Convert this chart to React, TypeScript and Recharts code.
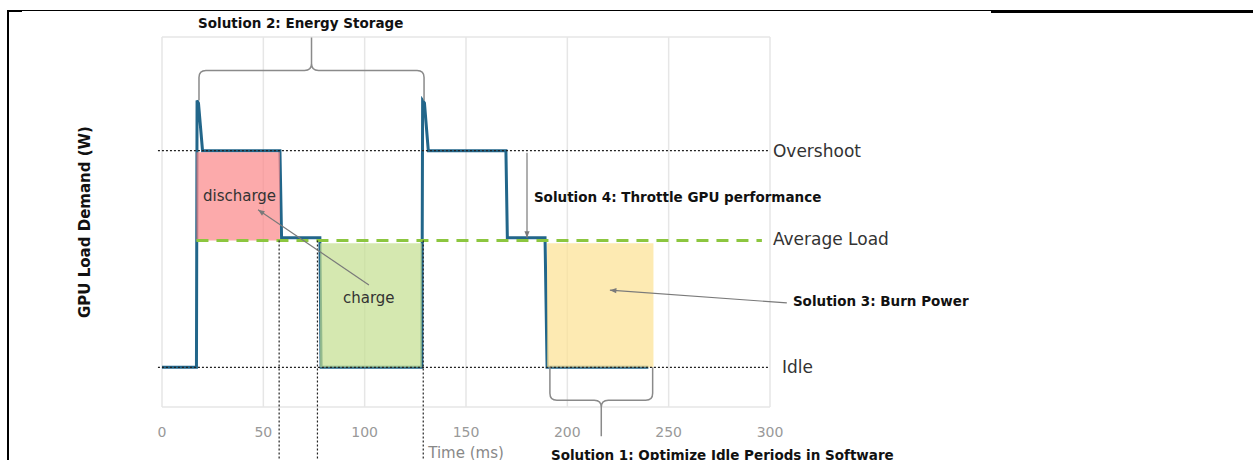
import React from "react";
import {
  ComposedChart,
  Line,
  XAxis,
  YAxis,
  CartesianGrid,
  ReferenceArea,
  ReferenceLine,
  ReferenceDot,
} from "recharts";

const X_TICKS = [0, 50, 100, 150, 200, 250, 300];
const Y_GRID = [0, 100, 200, 300, 400, 500, 600, 700];

// GPU load trace: time (ms) and demand (relative W, the picture has no y ticks)
const TIME = [0, 17, 17.3, 18, 20, 58.2, 59, 77.9, 78.5, 128.2, 128.6, 129.5, 131.4, 169.7, 170.4, 189, 190, 240];
const LOAD = [75, 75, 580, 575, 485, 485, 320, 320, 75, 75, 580, 575, 485, 485, 320, 320, 75, 75];

const IDLE = 75;
const AVERAGE = 315;
const OVERSHOOT = 485;

const LEVELS = [
  { name: "Overshoot", y: OVERSHOOT, from: -2, to: 299 },
  { name: "Average Load", y: AVERAGE, from: 17, to: 296 },
  { name: "Idle", y: IDLE, from: -2, to: 299 },
];

const ZONES = [
  { name: "discharge", x1: 17, x2: 58.2, y1: AVERAGE, y2: 482 },
  { name: "charge", x1: 78, x2: 128.2, y1: IDLE, y2: 310 },
  { name: "burn", x1: 190, x2: 242.5, y1: IDLE, y2: 310 },
];
const ZONE_COLORS = ["#fb8688", "#c3de8e", "#fce191"];

// dotted verticals dropping below the axis
const CUTS = [57.8, 76.7, 128.9];

const ARROWS = [
  { from: [102.1, 231], to: [47.4, 373] },
  { from: [180.1, 481], to: [180.1, 320] },
  { from: [308.3, 197], to: [221, 221] },
];

const BRACES = [
  { x1: 18.25, x2: 129.3, y: 580, dir: -1, d1: 30, d2: 33 },
  { x1: 191.4, x2: 242.1, y: IDLE, dir: 1, d1: 33, d2: 36 },
];

const NOTES = [
  { text: "Solution 2: Energy Storage", t: 17.8, w: 726, bold: true },
  { text: "discharge", t: 20.2, w: 399, bold: false },
  { text: "charge", t: 89.3, w: 206, bold: false },
  { text: "Solution 4: Throttle GPU performance", t: 183.5, w: 397, bold: true },
  { text: "Solution 3: Burn Power", t: 311.3, w: 200, bold: true },
  { text: "Solution 1: Optimize Idle Periods in Software", t: 191.9, w: -90, bold: true },
];

const trace = TIME.map((t, i) => ({ t, w: LOAD[i] }));

const arrowShape = (p: any) => {
  const { x1, y1, x2, y2 } = p;
  const a = Math.atan2(y2 - y1, x2 - x1);
  const len = 7;
  const sp = 0.38;
  const pts = [
    [x2, y2],
    [x2 - len * Math.cos(a - sp), y2 - len * Math.sin(a - sp)],
    [x2 - len * Math.cos(a + sp), y2 - len * Math.sin(a + sp)],
  ]
    .map((q) => q.join(","))
    .join(" ");
  return (
    <g>
      <line x1={x1} y1={y1} x2={x2} y2={y2} stroke="#7a7a7a" strokeWidth={1.2} />
      <polygon points={pts} fill="#7a7a7a" />
    </g>
  );
};

const braceShape = (dir: number, d1: number, d2: number) => (p: any) => {
  const { x1, y1, x2 } = p;
  const r = 7;
  const yh = y1 + dir * d1;
  const yc = yh + dir * d2;
  const xm = (x1 + x2) / 2;
  const d =
    `M${x1},${y1} L${x1},${yh - dir * r} Q${x1},${yh} ${x1 + r},${yh} L${xm - r},${yh} ` +
    `Q${xm},${yh} ${xm},${yh + dir * r} L${xm},${yc} ` +
    `M${xm},${yh + dir * r} Q${xm},${yh} ${xm + r},${yh} L${x2 - r},${yh} ` +
    `Q${x2},${yh} ${x2},${yh - dir * r} L${x2},${y1}`;
  return <path d={d} fill="none" stroke="#8a8a8a" strokeWidth={1.5} />;
};

export default function App() {
  return (
    <div
      style={{
        position: "absolute",
        left: 0,
        top: 0,
        width: 1253,
        height: 460,
        overflow: "hidden",
        background: "#fff",
        fontFamily: "'DejaVu Sans', sans-serif",
      }}
    >
      <div style={{ position: "absolute", left: 7, top: 10, width: 2, height: 450, background: "#000" }} />
      <div style={{ position: "absolute", left: 7, top: 10, width: 15, height: 2, background: "#000" }} />
      <div style={{ position: "absolute", left: 8, top: 10, width: 983, height: 1, background: "#000" }} />
      <div style={{ position: "absolute", left: 991, top: 10, width: 262, height: 2.5, background: "#000" }} />

      <ComposedChart
        width={1253}
        height={460}
        data={trace}
        margin={{ top: 37, right: 483, bottom: 23, left: 8 }}
      >
        <CartesianGrid stroke="#e6e6e6" strokeWidth={1.5} />
        <XAxis
          type="number"
          dataKey="t"
          domain={[0, 300]}
          ticks={X_TICKS}
          axisLine={false}
          tickLine={false}
          tickMargin={14}
          height={30}
          tick={{ fill: "#999", fontSize: 14 }}
          label={{ value: "Time (ms)", position: "bottom", offset: 10, fill: "#888", fontSize: 15 }}
        />
        <YAxis
          type="number"
          domain={[0, 700]}
          ticks={Y_GRID}
          width={154}
          tick={false}
          axisLine={false}
          tickLine={false}
          label={{
            value: "GPU Load Demand (W)",
            angle: -90,
            position: "center",
            fill: "#111",
            fontSize: 15,
            fontWeight: "bold",
          }}
        />
        <Line
          type="linear"
          dataKey="w"
          stroke="#22668a"
          strokeWidth={3}
          dot={false}
          activeDot={false}
          isAnimationActive={false}
        />
        {ZONES.map((z, i) => (
          <ReferenceArea
            key={z.name}
            x1={z.x1}
            x2={z.x2}
            y1={z.y1}
            y2={z.y2}
            fill={ZONE_COLORS[i]}
            fillOpacity={0.7}
            stroke="none"
            ifOverflow="visible"
            zIndex={450}
          />
        ))}
        {LEVELS.map((l, i) => (
          <ReferenceLine
            key={l.name}
            segment={[
              { x: l.from, y: l.y },
              { x: l.to, y: l.y },
            ]}
            stroke={i === 1 ? "#8cc63f" : "#222"}
            strokeWidth={i === 1 ? 3 : 1.2}
            strokeDasharray={i === 1 ? "12 8" : "2 2"}
            ifOverflow="visible"
            zIndex={500}
            label={{
              value: l.name,
              position: "right",
              offset: i === 2 ? 14 : i === 1 ? 11 : 5,
              dy: i === 1 ? -2 : 0,
              fill: "#333",
              fontSize: 17,
            }}
          />
        ))}
        {CUTS.map((c) => (
          <ReferenceLine
            key={c}
            segment={[
              { x: c, y: AVERAGE },
              { x: c, y: -110 },
            ]}
            stroke="#222"
            strokeWidth={1.2}
            strokeDasharray="2 2"
            ifOverflow="visible"
            zIndex={500}
          />
        ))}
        {ARROWS.map((a, i) => (
          <ReferenceLine
            key={`arrow-${i}`}
            segment={[
              { x: a.from[0], y: a.from[1] },
              { x: a.to[0], y: a.to[1] },
            ]}
            ifOverflow="visible"
            zIndex={550}
            shape={arrowShape}
          />
        ))}
        {BRACES.map((b, i) => (
          <ReferenceLine
            key={`brace-${i}`}
            segment={[
              { x: b.x1, y: b.y },
              { x: b.x2, y: b.y },
            ]}
            ifOverflow="visible"
            zIndex={550}
            shape={braceShape(b.dir, b.d1, b.d2)}
          />
        ))}
        {NOTES.map((n) => (
          <ReferenceDot
            key={n.text}
            x={n.t}
            y={n.w}
            ifOverflow="visible"
            zIndex={600}
            shape={(p: any) => (
              <text
                x={p.cx}
                y={p.cy}
                dominantBaseline="central"
                fill={n.bold ? "#111" : "#333"}
                fontSize={n.bold ? 13.5 : 15}
                fontWeight={n.bold ? "bold" : "normal"}
              >
                {n.text}
              </text>
            )}
          />
        ))}
      </ComposedChart>
    </div>
  );
}
